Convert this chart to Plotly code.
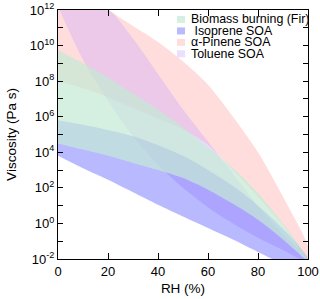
import plotly.graph_objects as go

rh = [0, 10, 20, 30, 40, 50, 60, 70, 80, 90, 100]

# log10(viscosity / Pa s) bounds
pinene_upper = [13.5, 12.8, 12.0, 11.1, 10.2, 9.1, 7.8, 6.0, 4.0, 1.5, -1.3]
pinene_lower = [8.0, 7.6, 7.1, 6.5, 5.9, 5.3, 4.4, 3.0, 1.5, -0.1, -2.0]
toluene_upper = [14.0, 13.0, 12.1, 10.4, 8.4, 6.4, 4.6, 2.8, 1.0, -0.6, -2.0]
toluene_lower = [12.2, 9.2, 6.9, 4.9, 3.3, 2.0, 0.9, 0.0, -0.8, -1.5, -2.2]
biomass_upper = [9.75, 9.0, 8.2, 7.3, 6.4, 5.4, 4.3, 3.1, 1.7, 0.0, -2.0]
biomass_lower = [4.5, 4.15, 3.8, 3.4, 3.0, 2.55, 1.9, 1.1, 0.2, -0.9, -2.1]
isoprene_upper = [5.8, 5.55, 5.25, 4.9, 4.4, 3.8, 3.0, 2.1, 1.0, -0.3, -2.0]
isoprene_lower = [3.8, 3.1, 2.45, 1.75, 1.05, 0.39, -0.25, -0.9, -1.6, -2.3, -3.0]

# drawing order: bottom to top
names = ["α-Pinene SOA", "Toluene SOA", "\u00a0Isoprene SOA", "Biomass burning (Fir)"]
uppers = [pinene_upper, toluene_upper, isoprene_upper, biomass_upper]
lowers = [pinene_lower, toluene_lower, isoprene_lower, biomass_lower]
fills = ["rgba(255,120,120,0.25)", "rgba(200,160,255,0.35)",
         "rgba(60,60,255,0.36)", "rgba(195,234,212,0.7)"]
legend_order = ["Biomass burning (Fir)", "\u00a0Isoprene SOA", "α-Pinene SOA", "Toluene SOA"]

fig = go.Figure()
for name, up, lo, col in zip(names, uppers, lowers, fills):
    xs = rh + rh[::-1]
    ys = [10 ** v for v in up] + [10 ** v for v in lo[::-1]]
    fig.add_trace(go.Scatter(x=xs, y=ys, fill="toself", fillcolor=col, name=name,
                             mode="lines", line=dict(width=0, shape="spline", smoothing=0.8),
                             showlegend=False, hoverinfo="skip"))

font = "Liberation Sans, Arial, Helvetica, sans-serif"

# compact legend drawn in paper coordinates
colors = dict(zip(names, fills))
leg_x0, leg_y0, leg_dy = 0.476, 0.962, 0.046
for i, n in enumerate(legend_order):
    yc = leg_y0 - i * leg_dy
    fig.add_shape(type="rect", xref="paper", yref="paper",
                  x0=leg_x0, x1=leg_x0 + 0.032, y0=yc - 0.014, y1=yc + 0.014,
                  fillcolor=colors[n], line=dict(width=0))
    fig.add_annotation(xref="paper", yref="paper", x=leg_x0 + 0.046, y=yc,
                       xanchor="left", yanchor="middle", showarrow=False,
                       text=n, font=dict(size=12.4, family=font, color="black"))

exps = list(range(-2, 13, 2))
minor_exps = list(range(-1, 12, 2))

fig.update_layout(
    width=320, height=299,
    margin=dict(l=58, r=12, t=10, b=40),
    paper_bgcolor="white", plot_bgcolor="white",
    font=dict(family=font, size=13, color="black"),
    showlegend=False,
)
fig.update_xaxes(range=[0, 100], tickvals=[0, 20, 40, 60, 80, 100], automargin=False,
                 ticks="inside", ticklen=6, tickwidth=1, tickcolor="black",
                 showline=True, linecolor="black", linewidth=1, mirror="ticks",
                 showgrid=False, zeroline=False,
                 title=dict(text="RH (%)", font=dict(size=13.5), standoff=5),
                 tickfont=dict(size=13))
fig.update_yaxes(type="log", range=[-2, 12],
                 tickvals=[10 ** e for e in exps],
                 ticktext=[f"10<sup>{e}</sup>" for e in exps], automargin=False,
                 ticks="inside", ticklen=5, tickwidth=1, tickcolor="black",
                 minor=dict(tickvals=[10 ** e for e in minor_exps], ticks="inside",
                            ticklen=5, tickwidth=1, tickcolor="black", showgrid=False),
                 showline=True, linecolor="black", linewidth=1, mirror="ticks",
                 showgrid=False, zeroline=False,
                 title=dict(text="Viscosity (Pa s)", font=dict(size=13.5), standoff=10),
                 tickfont=dict(size=13))

fig.write_html("out.html", config={"displayModeBar": False},
               post_script="document.body.style.margin='0';document.body.style.padding='0';")
